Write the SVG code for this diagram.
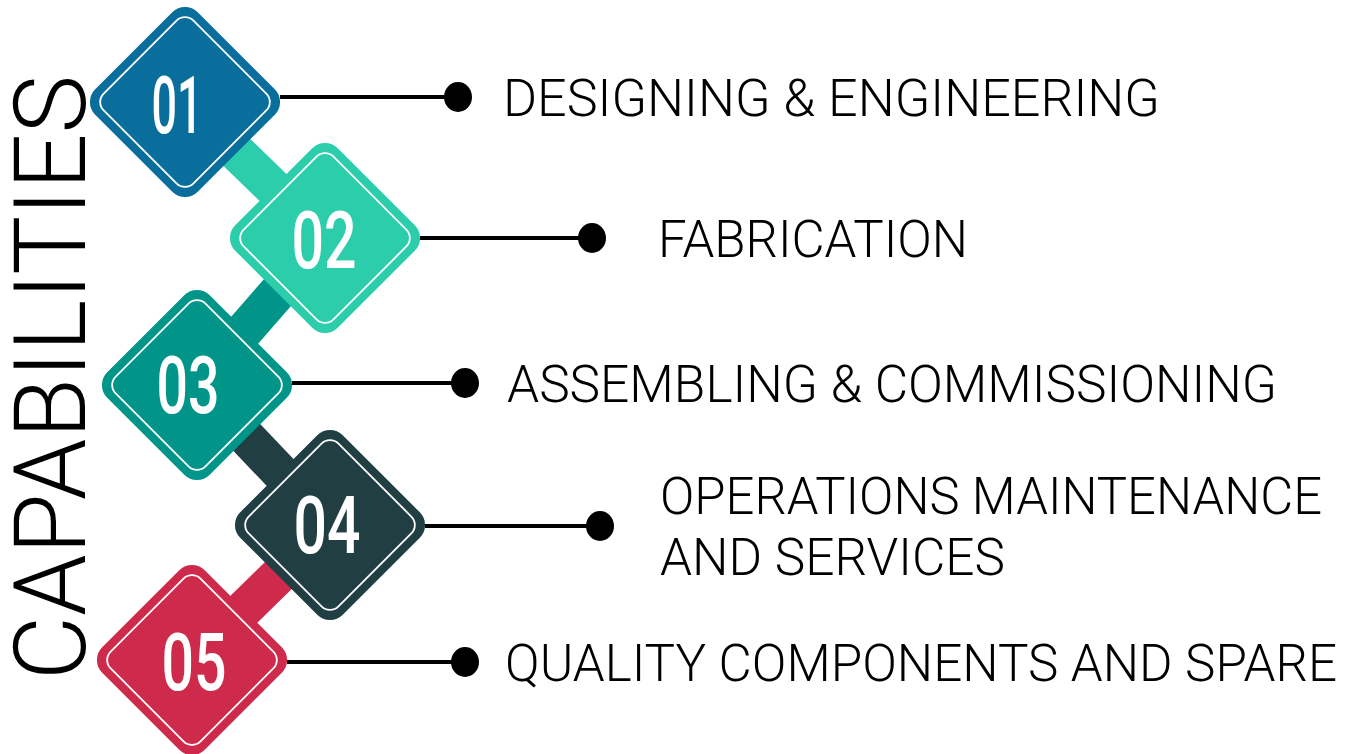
<svg xmlns="http://www.w3.org/2000/svg" width="1352" height="754" viewBox="0 0 1352 754">
<style>
.outer{stroke:none}
.inner{fill:none;stroke:#ffffff;stroke-width:1.8}
.num{font-family:"Roboto","Liberation Sans",sans-serif;font-weight:500;font-size:80px;fill:#ffffff;text-anchor:middle}
.lbl{font-family:"Roboto","Liberation Sans",sans-serif;font-weight:300;font-size:52px;fill:#000000}
.title{font-family:"Roboto","Liberation Sans",sans-serif;font-weight:300;font-size:100px;fill:#000000}
.lead{stroke:#000000;stroke-width:4}
.dot{fill:#000000}
.bar{stroke-width:38;stroke-linecap:butt}
</style>
<rect width="1352" height="754" fill="#ffffff"/>
<g id="title">
<text class="title" transform="translate(85,680) rotate(-90)" textLength="605" lengthAdjust="spacingAndGlyphs">CAPABILITIES</text>
</g>
<g id="connectors">
<line class="bar" x1="185" y1="102" x2="325" y2="238" stroke="#2BCDAB"/>
<line class="bar" x1="325" y1="238" x2="197" y2="385" stroke="#009588"/>
<line class="bar" x1="197" y1="385" x2="330" y2="525" stroke="#213E42"/>
<line class="bar" x1="330" y1="525" x2="192" y2="660" stroke="#CE2A4B"/>
<line class="lead" x1="280" y1="97" x2="458" y2="97"/>
<ellipse class="dot" cx="458" cy="97" rx="14" ry="15"/>
<line class="lead" x1="420" y1="238" x2="592" y2="238"/>
<ellipse class="dot" cx="592" cy="238" rx="14" ry="15"/>
<line class="lead" x1="292" y1="383" x2="465" y2="383"/>
<ellipse class="dot" cx="465" cy="383" rx="14" ry="15"/>
<line class="lead" x1="425" y1="526" x2="600" y2="526"/>
<ellipse class="dot" cx="600" cy="526" rx="14" ry="15"/>
<line class="lead" x1="287" y1="662" x2="465" y2="662"/>
<ellipse class="dot" cx="465" cy="662" rx="14" ry="15"/>
</g>
<g id="node01" transform="translate(185,102)">
<rect class="outer" x="-72.5" y="-72.5" width="145" height="145" rx="18" transform="rotate(45)" fill="#0A6E9D"/>
<rect class="inner" x="-63.5" y="-63.5" width="127" height="127" rx="12" transform="rotate(45)"/>
<text class="num" x="-8" y="31" textLength="51" lengthAdjust="spacingAndGlyphs">01</text>
</g>
<g id="node02" transform="translate(325,238)">
<rect class="outer" x="-72.5" y="-72.5" width="145" height="145" rx="18" transform="rotate(45)" fill="#2BCDAB"/>
<rect class="inner" x="-63.5" y="-63.5" width="127" height="127" rx="12" transform="rotate(45)"/>
<text class="num" x="-1" y="30" textLength="65" lengthAdjust="spacingAndGlyphs">02</text>
</g>
<g id="node03" transform="translate(197,385)">
<rect class="outer" x="-72.5" y="-72.5" width="145" height="145" rx="18" transform="rotate(45)" fill="#009588"/>
<rect class="inner" x="-63.5" y="-63.5" width="127" height="127" rx="12" transform="rotate(45)"/>
<text class="num" x="-9" y="28" textLength="63" lengthAdjust="spacingAndGlyphs">03</text>
</g>
<g id="node04" transform="translate(330,525)">
<rect class="outer" x="-72.5" y="-72.5" width="145" height="145" rx="18" transform="rotate(45)" fill="#213E42"/>
<rect class="inner" x="-63.5" y="-63.5" width="127" height="127" rx="12" transform="rotate(45)"/>
<text class="num" x="-3" y="28" textLength="67" lengthAdjust="spacingAndGlyphs">04</text>
</g>
<g id="node05" transform="translate(192,660)">
<rect class="outer" x="-72.5" y="-72.5" width="145" height="145" rx="18" transform="rotate(45)" fill="#CE2A4B"/>
<rect class="inner" x="-63.5" y="-63.5" width="127" height="127" rx="12" transform="rotate(45)"/>
<text class="num" x="2" y="30" textLength="65" lengthAdjust="spacingAndGlyphs">05</text>
</g>
<g id="labels">
<text class="lbl" x="503" y="116" textLength="657" lengthAdjust="spacingAndGlyphs">DESIGNING &amp; ENGINEERING</text>
<text class="lbl" x="658" y="257" textLength="310" lengthAdjust="spacingAndGlyphs">FABRICATION</text>
<text class="lbl" x="507" y="402" textLength="770" lengthAdjust="spacingAndGlyphs">ASSEMBLING &amp; COMMISSIONING</text>
<text class="lbl" x="660" y="514" textLength="662" lengthAdjust="spacingAndGlyphs">OPERATIONS MAINTENANCE</text>
<text class="lbl" x="660" y="575" textLength="345" lengthAdjust="spacingAndGlyphs">AND SERVICES</text>
<text class="lbl" x="505" y="681" textLength="832" lengthAdjust="spacingAndGlyphs">QUALITY COMPONENTS AND SPARE</text>
</g>
</svg>
